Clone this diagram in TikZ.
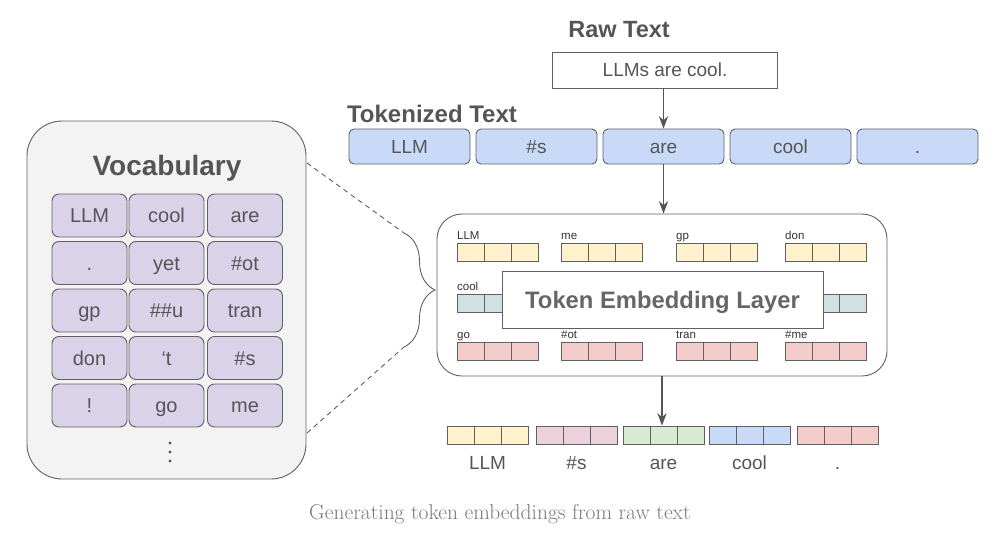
\documentclass[tikz,border=0pt]{standalone}
\usepackage{fontspec}
\setsansfont{Liberation Sans}
\usetikzlibrary{positioning}
\usetikzlibrary{arrows.meta}
\usetikzlibrary{decorations.pathreplacing}
\definecolor{linegray}{HTML}{606060}
\definecolor{txtgray}{HTML}{555555}
\definecolor{vocbg}{HTML}{F3F3F3}
\definecolor{vocpurple}{HTML}{D9D2E9}
\definecolor{tokblue}{HTML}{C9DAF8}
\definecolor{embyellow}{HTML}{FFF2CC}
\definecolor{embcyan}{HTML}{D0E0E3}
\definecolor{embred}{HTML}{F4CCCC}
\definecolor{embpink}{HTML}{EAD1DC}
\definecolor{embgreen}{HTML}{D9EAD3}
\definecolor{embblue}{HTML}{C9DAF8}
\definecolor{capgray}{HTML}{7A7A7A}

% three cells of one embedding vector: name, left x, centre y, colour
\newcommand{\embvec}[4]{%
  \foreach \i in {0,1,2}
    \node[cell, fill=#4] (#1-\i) at (#2+13.5+27*\i, #3) {};
}

\begin{document}
\begin{tikzpicture}[x=1pt, y=-1pt, ->, >={Stealth[scale=1.4]},
    every node/.style={font=\sffamily\fontsize{19}{21}\selectfont, text=txtgray, text height=13.6pt, text depth=0pt},
    head/.style={font=\sffamily\bfseries\fontsize{23.5}{26}\selectfont, text height=16.9pt},
    tok/.style={draw=linegray, line width=0.9pt, fill=tokblue, rounded corners=5pt, minimum width=121pt, minimum height=35pt, inner sep=0pt},
    voc/.style={draw=linegray, line width=0.9pt, fill=vocpurple, rounded corners=7pt, minimum width=75pt, minimum height=43pt, inner sep=0pt, font=\sffamily\fontsize{20}{22}\selectfont, text height=14.3pt},
    cell/.style={draw=linegray, line width=0.9pt, minimum width=27pt, minimum height=18pt, inner sep=0pt},
    small/.style={font=\sffamily\fontsize{11.5}{12}\selectfont, text=black!80, anchor=base west, inner sep=0pt, text height=, text depth=}]
    \useasboundingbox (0,0) rectangle (1000,535);

    % raw text and tokens
    \node[head] (rawlbl) at (619,29) {Raw Text};
    \node[draw=linegray, line width=0.9pt, minimum width=225pt, minimum height=36pt, inner sep=0pt] (raw) at (665,70) {LLMs are cool.};
    \node[head, font=\sffamily\bfseries\fontsize{24}{26}\selectfont, text height=17.2pt] (toklbl) at (432,114) {Tokenized Text};
    \node[tok] (t1) at (409.5,146.5) {LLM};
    \node[tok] (t2) at (536.5,146.5) {\#s};
    \node[tok] (t3) at (663.5,146.5) {are};
    \node[tok] (t4) at (790.5,146.5) {cool};
    \node[tok] (t5) at (917.5,146.5) {.};

    % vocabulary
    \node[draw=linegray, line width=0.9pt, fill=vocbg, rounded corners=35pt, minimum width=279pt, minimum height=358pt] (vocab) at (166.5,300) {};
    \node[font=\sffamily\bfseries\fontsize{28}{30}\selectfont, text height=20pt] (voclbl) at (167,165) {Vocabulary};
    \foreach \a/\b/\c [count=\r from 0] in {LLM/cool/are, ./yet/\#ot, gp/\#\#u/tran, don/‘t/\#s, !/go/me} {
        \node[voc] (v\r a) at (89.5,215.5+47.5*\r) {\a};
        \node[voc] (v\r b) at (166.5,215.5+47.5*\r) {\b};
        \node[voc] (v\r c) at (245,215.5+47.5*\r) {\c};
    }
    \foreach \y in {443,452,461}
        \fill[txtgray] (170,\y) circle (1.7pt);

    % embedding layer
    \node[draw=linegray, line width=0.9pt, rounded corners=25pt, minimum width=450pt, minimum height=162pt] (layer) at (662,295) {};
    \embvec{e1}{457}{252}{embyellow}
    \embvec{e2}{561}{252}{embyellow}
    \embvec{e3}{676}{252}{embyellow}
    \embvec{e4}{785}{252}{embyellow}
    \embvec{e5}{457}{303}{embcyan}
    \embvec{e6}{561}{303}{embcyan}
    \embvec{e7}{676}{303}{embcyan}
    \embvec{e8}{785}{303}{embcyan}
    \embvec{e9}{457}{351}{embred}
    \embvec{e10}{561}{351}{embred}
    \embvec{e11}{676}{351}{embred}
    \embvec{e12}{785}{351}{embred}
    \node[small] (l1) at (457,239) {LLM};
    \node[small] (l2) at (561,239) {me};
    \node[small] (l3) at (676,239) {gp};
    \node[small] (l4) at (785,239) {don};
    \node[small] (l5) at (457,290) {cool};
    \node[small] (l9) at (457,338) {go};
    \node[small] (l10) at (561,338) {\#ot};
    \node[small] (l11) at (676,338) {tran};
    \node[small] (l12) at (785,338) {\#me};
    \node[draw=linegray, line width=0.9pt, fill=white, minimum width=321pt, minimum height=57pt, inner sep=0pt, font=\sffamily\bfseries\fontsize{23.8}{26}\selectfont, text height=17pt, text=black!60] (tel) at (662.5,299.5) {Token Embedding Layer};

    % output embeddings
    \embvec{o1}{447}{435}{embyellow}
    \embvec{o2}{536}{435}{embpink}
    \embvec{o3}{623}{435}{embgreen}
    \embvec{o4}{709}{435}{embblue}
    \embvec{o5}{797}{435}{embred}
    \node (ol1) at (o1-1 |- 0,463) {LLM};
    \node (ol2) at (o2-1 |- 0,463) {\#s};
    \node (ol3) at (o3-1 |- 0,463) {are};
    \node (ol4) at (o4-1 |- 0,463) {cool};
    \node (ol5) at (o5-1 |- 0,463) {.};

    % arrows
    \draw[txtgray, line width=1.3pt] (t3.north |- raw.south) -- (t3.north);
    \draw[txtgray, line width=1.3pt] (t3.south) -- (t3.south |- layer.north);
    \draw[txtgray, line width=1.3pt] (layer.south) -- (layer.south |- o3-1.north);

    % zoom lines and brace
    \coordinate (vt) at (307,163);
    \coordinate (vb) at (307,433);
    \coordinate (bt) at (404,233);
    \coordinate (bb) at (404,347);
    \draw[-, linegray, line width=0.9pt, dash pattern=on 5pt off 4pt] (vt) -- (bt);
    \draw[-, linegray, line width=0.9pt, dash pattern=on 5pt off 4pt] (vb) -- (bb);
    \draw[-, linegray, line width=0.9pt, decorate, decoration={brace, amplitude=31pt, aspect=0.5}] (bt) -- (bb);

    \node[font=\rmfamily\fontsize{21.5}{24}\selectfont, text=capgray, text height=15pt, text depth=5pt] (cap) at (500,514) {Generating token embeddings from raw text};
\end{tikzpicture}
\end{document}
